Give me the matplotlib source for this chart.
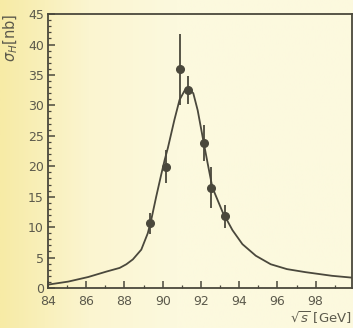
import matplotlib.pyplot as plt
import numpy as np
from matplotlib.colors import LinearSegmentedColormap
from matplotlib.ticker import MultipleLocator

plt.rcParams["font.family"] = "DejaVu Sans"

# measured points
sqrt_s = [89.31, 90.15, 90.93, 91.31, 92.18, 92.53, 93.27]
sigma_h = [10.6, 19.9, 35.9, 32.5, 23.8, 16.5, 11.8]
sigma_err = [1.8, 2.7, 5.9, 2.3, 3.0, 3.4, 1.9]

# fitted line shape
curve_x = [84.0, 85.06, 86.1, 87.06, 87.75, 88.1, 88.44, 88.88, 89.22, 89.4,
           89.66, 89.92, 90.1, 90.27, 90.61, 90.88, 91.14, 91.4, 91.6, 91.83,
           92.09, 92.35, 92.6, 93.13, 93.65, 94.17, 94.87, 95.65, 96.5, 97.47,
           98.86, 99.9]
curve_y = [0.55, 1.05, 1.8, 2.7, 3.3, 3.9, 4.7, 6.3, 9.0, 11.2,
           15.0, 18.6, 21.0, 23.0, 27.6, 30.9, 32.4, 32.6, 32.0, 29.2,
           24.8, 20.5, 16.5, 12.5, 9.5, 7.2, 5.3, 3.9, 3.1, 2.6,
           2.0, 1.7]

INK = "#4a483c"
TEXT = "#5c5a4c"
PAPER = "#fcf9de"

fig = plt.figure(figsize=(3.53, 3.28), dpi=100)
fig.patch.set_facecolor(PAPER)

# yellowish tint towards the left edge of the scan
bg = fig.add_axes([0, 0, 1, 1], zorder=-10)
paper_cmap = LinearSegmentedColormap.from_list(
    "paper", ["#f7eba6", "#fbf5d0", PAPER, PAPER, PAPER])
bg.imshow(np.linspace(0, 1, 200)[None, :], aspect="auto",
          extent=[0, 1, 0, 1], cmap=paper_cmap)
bg.axis("off")

ax = fig.add_axes([0.136, 0.122, 0.861, 0.835])
ax.set_facecolor("none")

ax.plot(curve_x, curve_y, color=INK, lw=1.3, solid_joinstyle="round",
        solid_capstyle="round")
ax.errorbar(sqrt_s, sigma_h, yerr=sigma_err, fmt="o", color=INK, ms=5.5,
            elinewidth=1.3, capsize=0)

ax.set_xlim(84, 99.9)
ax.set_ylim(0, 45)
ax.set_xticks(np.arange(84, 100, 2))
ax.xaxis.set_minor_locator(MultipleLocator(1))
ax.yaxis.set_major_locator(MultipleLocator(5))
ax.yaxis.set_minor_locator(MultipleLocator(1))

ax.tick_params(which="both", direction="in", color=INK, labelcolor=TEXT,
               labelsize=9, top=False, right=False)
ax.tick_params(which="major", length=5, width=1.1)
ax.tick_params(which="minor", length=2.5, width=0.9)
ax.tick_params(axis="x", pad=5)
ax.tick_params(axis="y", pad=3)
for side in ax.spines.values():
    side.set_color(INK)
    side.set_linewidth(1.3)

fig.text(0.032, 0.885, r"$\sigma_H$[nb]", rotation=90, ha="center",
         va="center", color=TEXT, fontsize=10.5)
fig.text(0.997, 0.03, r"$\sqrt{s}$ [GeV]", ha="right", va="center",
         color=TEXT, fontsize=9.5)

fig.savefig("out.png", dpi=100, facecolor=PAPER)
